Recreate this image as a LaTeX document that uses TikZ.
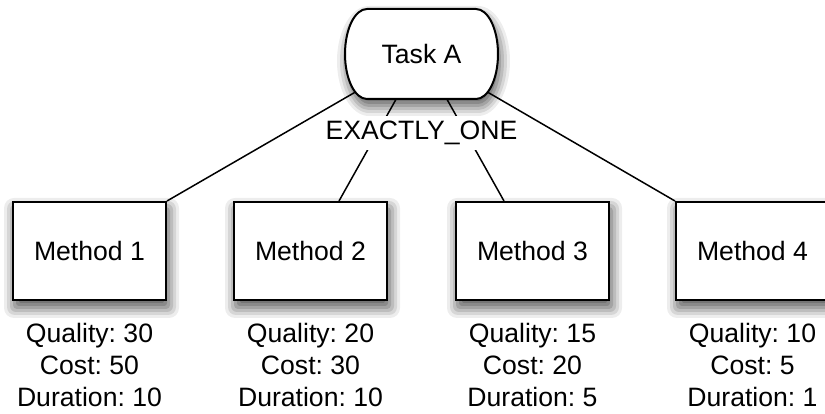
\documentclass[tikz,border=0pt]{standalone}
\usepackage{fontspec}
\setmainfont{Liberation Sans}
\frenchspacing
\pgfdeclarelayer{foreground}
\pgfsetlayers{main,foreground}
% greys of the soft shadows, outermost (lightest) first
\definecolor{shadeA}{gray}{0.93}
\definecolor{shadeB}{gray}{0.84}
\definecolor{shadeC}{gray}{0.74}
\definecolor{shadeD}{gray}{0.64}
\definecolor{shadeE}{gray}{0.54}
\definecolor{shadeF}{gray}{0.46}
\definecolor{shadeG}{gray}{0.40}
\tikzset{
  bigfont/.style={font=\fontsize{26.6}{31.7}\selectfont},
  methodbox/.style={draw, line width=2pt, fill=white,
      minimum width=153pt, minimum height=98pt, inner sep=0pt, bigfont},
  stats/.style={align=center, anchor=north, inner sep=0pt, bigfont},
  tasktext/.style={inner sep=0pt, bigfont},
  taskshape/.style={draw, line width=2pt, fill=white},
  choice/.style={fill=white, inner xsep=6pt, inner ysep=5pt, anchor=base, bigfont},
  link/.style={line width=1.5pt}
}
% task outline grown by #1, shifted by (#2,#3)
\newcommand\taskoutline[3]{%
  ({367+#2},{405+#1+#3}) -- ({476+#2},{405+#1+#3})
  arc[start angle=90, end angle=-90, x radius={22+#1}, y radius={45+#1}]
  -- ({367+#2},{315-#1+#3})
  arc[start angle=270, end angle=90, x radius={22+#1}, y radius={45+#1}]
  -- cycle
}
% method box outline (155 x 100 around (#1,#2)) grown by #3, shifted by (2,-7)
\newcommand\boxoutline[3]{%
  ({#1-75.5-#3},{#2-57-#3}) rectangle ({#1+79.5+#3},{#2+43+#3})
}
% soft shadow of a method box: nested greys, largest first
\newcommand\boxshade[2]{%
  \fill[shadeA, rounded corners=10pt] \boxoutline{#1}{#2}{10};
  \fill[shadeB, rounded corners=8pt] \boxoutline{#1}{#2}{7};
  \fill[shadeC, rounded corners=6pt] \boxoutline{#1}{#2}{4};
  \fill[shadeD, rounded corners=4pt] \boxoutline{#1}{#2}{1};
  \fill[shadeE, rounded corners=3pt] \boxoutline{#1}{#2}{-2};
  \fill[shadeF, rounded corners=2pt] \boxoutline{#1}{#2}{-5};
  \fill[shadeG, rounded corners=2pt] \boxoutline{#1}{#2}{-8};
}
\begin{document}
\begin{tikzpicture}[x=1pt,y=1pt]
  \useasboundingbox (0,0) rectangle (825,414);

  % drop shadows
  \fill[shadeA] \taskoutline{10}{2}{-7};
  \fill[shadeB] \taskoutline{7}{2}{-7};
  \fill[shadeC] \taskoutline{4}{2}{-7};
  \fill[shadeD] \taskoutline{1}{2}{-7};
  \fill[shadeE] \taskoutline{-2}{2}{-7};
  \fill[shadeF] \taskoutline{-5}{2}{-7};
  \fill[shadeG] \taskoutline{-8}{2}{-7};
  \boxshade{89.5}{163}
  \boxshade{310.5}{163}
  \boxshade{532.5}{163}
  \boxshade{752.5}{163}

  % task: flat top and bottom, elliptical sides
  \path[taskshape] \taskoutline{0}{0}{0};
  \node[tasktext] (t) at (421.5,360) {Task A};

  % methods
  \node[methodbox] (m1) at (89.5,163)  {Method 1};
  \node[methodbox] (m2) at (310.5,163) {Method 2};
  \node[methodbox] (m3) at (532.5,163) {Method 3};
  \node[methodbox] (m4) at (752.5,163) {Method 4};

  % method attributes
  \node[stats] (s1) at (89.5,90.5)  {Quality: 30\\Cost: 50\\Duration: 10};
  \node[stats] (s2) at (310.5,90.5) {Quality: 20\\Cost: 30\\Duration: 10};
  \node[stats] (s3) at (532.5,90.5) {Quality: 15\\Cost: 20\\Duration: 5};
  \node[stats] (s4) at (752.5,90.5) {Quality: 10\\Cost: 5\\Duration: 1};

  \begin{pgfonlayer}{foreground}
    % connectors: aimed at the task centre, starting on its outline
    \draw[link] ([shift={(-66,-38)}]t.center) -- (m1.north east);
    \draw[link] ([shift={(-25.3,-45)}]t.center) -- ([xshift=28.5pt]m2.north);
    \draw[link] ([shift={(25.3,-45)}]t.center) -- ([xshift=-28.5pt]m3.north);
    \draw[link] ([shift={(65.8,-38)}]t.center) -- (m4.north west);
    % quality accumulation label over the connectors
    \node[choice] (q) at (421.5,274.5) {EXACTLY\_ONE};
  \end{pgfonlayer}
\end{tikzpicture}
\end{document}
